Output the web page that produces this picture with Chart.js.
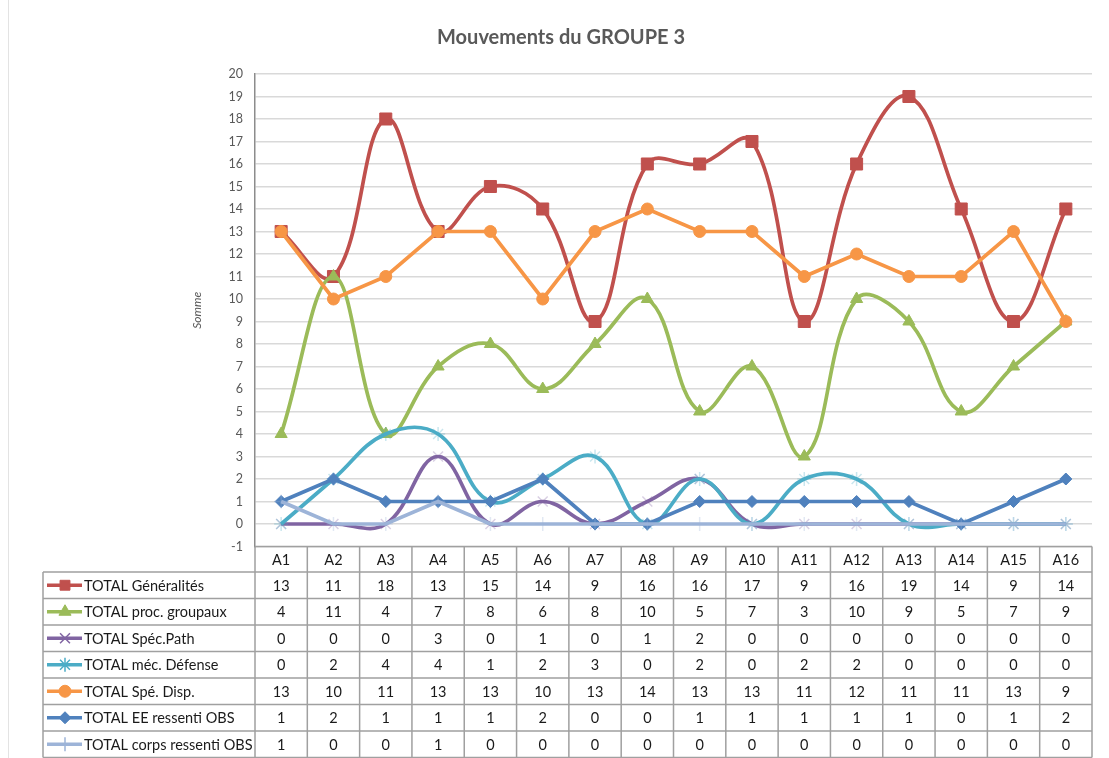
<!DOCTYPE html>
<html>
<head>
<meta charset="utf-8">
<title>Mouvements du GROUPE 3</title>
<script src="https://cdn.jsdelivr.net/npm/chart.js@4.4.1/dist/chart.umd.min.js"></script>
<style>
  html, body { margin: 0; padding: 0; background: #fff; }
  #wrap { position: relative; width: 1109px; height: 758px; }
</style>
</head>
<body>
<div id="wrap"><canvas id="myChart" width="1109" height="758"></canvas></div>
<script>
// chart data
const categories = ['A1','A2','A3','A4','A5','A6','A7','A8','A9','A10','A11','A12','A13','A14','A15','A16'];
const generalites = [13,11,18,13,15,14,9,16,16,17,9,16,19,14,9,14];
const procGroupaux = [4,11,4,7,8,6,8,10,5,7,3,10,9,5,7,9];
const specPath = [0,0,0,3,0,1,0,1,2,0,0,0,0,0,0,0];
const mecDefense = [0,2,4,4,1,2,3,0,2,0,2,2,0,0,0,0];
const speDisp = [13,10,11,13,13,10,13,14,13,13,11,12,11,11,13,9];
const eeRessenti = [1,2,1,1,1,2,0,0,1,1,1,1,1,0,1,2];
const corpsRessenti = [1,0,0,1,0,0,0,0,0,0,0,0,0,0,0,0];
const yTicks = {min: -1, max: 20, step: 1};
const chartTitle = 'Mouvements du GROUPE 3';
const axisTitle = 'Somme';

const FONT = 'Lato, "Open Sans", sans-serif';

const series = [
  {label: 'TOTAL Généralités', data: generalites, color: '#C0504D', point: 'rect', r: 8.5, smooth: true, fill: true},
  {label: 'TOTAL proc. groupaux', data: procGroupaux, color: '#9BBB59', point: 'triangle', r: 7, smooth: true, fill: true},
  {label: 'TOTAL Spéc.Path', data: specPath, color: '#8064A2', point: 'crossRot', r: 7, smooth: true, fill: false},
  {label: 'TOTAL méc. Défense', data: mecDefense, color: '#4BACC6', point: 'star', r: 7, smooth: true, fill: false},
  {label: 'TOTAL Spé. Disp.', data: speDisp, color: '#F79646', point: 'circle', r: 6, smooth: false, fill: true},
  {label: 'TOTAL EE ressenti OBS', data: eeRessenti, color: '#4F81BD', point: 'rectRot', r: 6, smooth: false, fill: true},
  {label: 'TOTAL corps ressenti OBS', data: corpsRessenti, color: '#9DB4D8', point: 'cross', r: 7, smooth: false, fill: false}
];

function fade(hex, a) {
  const n = parseInt(hex.slice(1), 16);
  return 'rgba(' + (n >> 16) + ',' + ((n >> 8) & 255) + ',' + (n & 255) + ',' + a + ')';
}

const datasets = series.map((s, i) => ({
  label: s.label,
  data: s.data,
  borderColor: s.color,
  backgroundColor: s.color,
  borderWidth: 3.7,
  tension: s.smooth ? 0.4 : 0,
  pointStyle: s.point,
  pointRadius: s.r,
  pointBackgroundColor: s.fill ? s.color : 'transparent',
  pointBorderColor: s.fill ? s.color : fade(s.color, 0.3),
  pointBorderWidth: s.fill ? 1 : 1.5,
  order: series.length - i
}));

// title + data table under the plot
const dataTable = {
  id: 'dataTable',
  beforeDraw(chart) {
    const ctx = chart.ctx;
    ctx.save();
    ctx.fillStyle = '#fff';
    ctx.fillRect(0, 0, chart.width, chart.height);
    ctx.strokeStyle = '#e3e3e3';
    ctx.lineWidth = 1;
    ctx.beginPath();
    ctx.moveTo(8.5, 0);
    ctx.lineTo(8.5, chart.height);
    ctx.stroke();
    ctx.restore();
  },
  afterDraw(chart) {
    const {ctx, chartArea, scales} = chart;
    const x = scales.x;
    const left = chartArea.left, right = chartArea.right;
    const top = chartArea.bottom;
    const headH = 25.5, rowH = 26.5;
    const legLeft = 43;
    const colW = (right - left) / categories.length;
    const bottom = top + headH + rowH * series.length;

    ctx.save();
    // title
    ctx.fillStyle = '#595959';
    ctx.font = 'bold 20px ' + FONT;
    ctx.textAlign = 'center';
    ctx.textBaseline = 'middle';
    ctx.fillText(chartTitle, 561, 38);

    // grid
    ctx.strokeStyle = '#a0a0a0';
    ctx.lineWidth = 1.5;
    ctx.beginPath();
    ctx.moveTo(left, top); ctx.lineTo(right, top);
    for (let r = 0; r <= series.length; r++) {
      const yy = top + headH + r * rowH;
      ctx.moveTo(legLeft, yy); ctx.lineTo(right, yy);
    }
    for (let c = 0; c <= categories.length; c++) {
      const xx = left + c * colW;
      ctx.moveTo(xx, top); ctx.lineTo(xx, bottom);
    }
    ctx.moveTo(legLeft, top + headH); ctx.lineTo(legLeft, bottom);
    ctx.stroke();

    // header
    ctx.fillStyle = '#1a1a1a';
    ctx.font = '14.5px ' + FONT;
    ctx.textAlign = 'center';
    categories.forEach((c, i) => ctx.fillText(c, x.getPixelForTick(i), top + headH / 2 + 1));

    // rows
    series.forEach((s, r) => {
      const cy = top + headH + r * rowH + rowH / 2;
      ctx.strokeStyle = s.color;
      ctx.lineWidth = 3.7;
      ctx.beginPath();
      ctx.moveTo(47, cy); ctx.lineTo(82, cy);
      ctx.stroke();
      ctx.fillStyle = s.fill ? s.color : 'transparent';
      ctx.strokeStyle = s.color;
      ctx.lineWidth = s.fill ? 1 : 1.5;
      Chart.helpers.drawPoint(ctx, {pointStyle: s.point, radius: Math.min(s.r, 7), rotation: 0, borderWidth: ctx.lineWidth}, 65, cy);

      ctx.fillStyle = '#1a1a1a';
      ctx.textAlign = 'left';
      ctx.fillText(s.label, 84, cy + 1);
      ctx.textAlign = 'center';
      s.data.forEach((v, i) => ctx.fillText(String(v), x.getPixelForTick(i), cy + 1));
    });
    ctx.restore();
  }
};

const config = {
  type: 'line',
  data: {labels: categories, datasets},
  options: {
    responsive: false,
    animation: false,
    devicePixelRatio: 1,
    layout: {padding: {left: 190, right: 17, top: 74, bottom: 211.5}},
    plugins: {legend: {display: false}, tooltip: {enabled: false}, title: {display: false}},
    scales: {
      x: {display: false, offset: true},
      y: {
        min: yTicks.min,
        max: yTicks.max,
        afterFit(s) { s.width = 65; },
        ticks: {stepSize: yTicks.step, padding: 12, color: '#595959', font: {family: FONT, size: 12.5}},
        grid: {color: '#d9d9d9', lineWidth: 1.5, drawTicks: false},
        border: {display: true, color: '#8c8c8c', width: 1.5},
        title: {display: true, text: axisTitle, color: '#595959', padding: 0, font: {family: FONT, size: 12, style: 'italic'}}
      }
    }
  },
  plugins: [dataTable]
};

const myChart = new Chart(document.getElementById('myChart'), config);
</script>
</body>
</html>
